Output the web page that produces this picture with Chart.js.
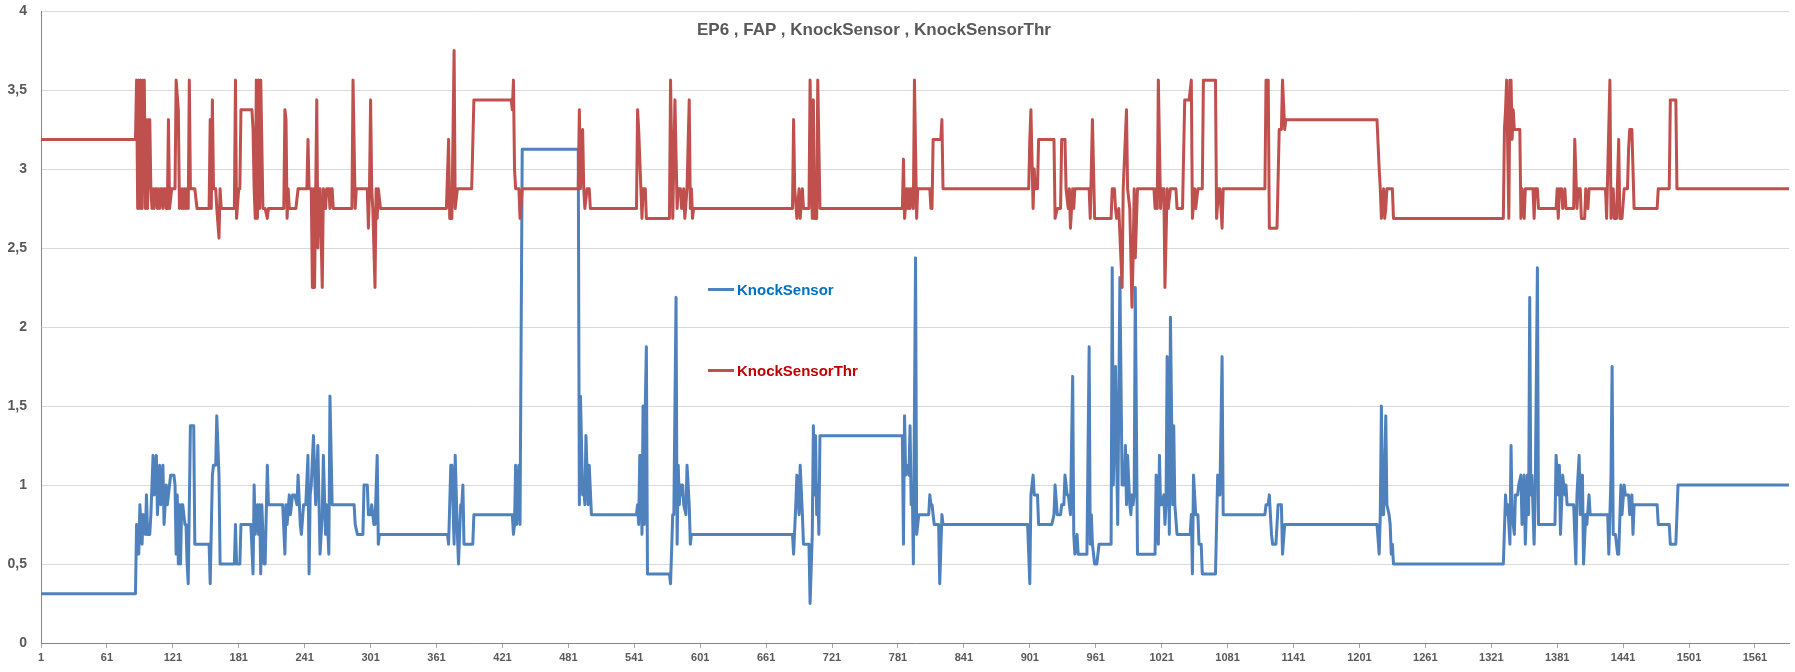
<!DOCTYPE html>
<html>
<head>
<meta charset="utf-8">
<script src="https://cdn.jsdelivr.net/npm/chart.js@4.4.0/dist/chart.umd.min.js"></script>
<style>
  body { margin: 0; background: #ffffff; }
  #wrap { position: relative; width: 1795px; height: 672px; }
  #knockChart { position: absolute; left: 0; top: 0; }
  .title {
    position: absolute; left: 697px; top: 20px;
    font: bold 17px "Liberation Sans", Arial, sans-serif;
    color: #595959; white-space: nowrap;
  }
  .legendItem {
    position: absolute; left: 708px;
    font: bold 15px "Liberation Sans", Arial, sans-serif;
    white-space: nowrap; display: flex; align-items: center;
  }
  .legendItem span.swatch { display: inline-block; width: 26px; height: 3px; margin-right: 3px; }
</style>
</head>
<body>
<div id="wrap">
  <canvas id="knockChart" width="1795" height="672"></canvas>
  <div class="title">EP6 , FAP , KnockSensor , KnockSensorThr</div>
  <div class="legendItem" style="top:281px;color:#0070C0"><span class="swatch" style="background:#4F81BD"></span>KnockSensor</div>
  <div class="legendItem" style="top:362px;color:#C00000"><span class="swatch" style="background:#C0504D"></span>KnockSensorThr</div>
</div>
<script>
// sample numbers on the x axis, only the ones Excel printed
const xTickLabels = [1, 61, 121, 181, 241, 301, 361, 421, 481, 541, 601, 661, 721, 781,
  841, 901, 961, 1021, 1081, 1141, 1201, 1261, 1321, 1381, 1441, 1501, 1561];

// KnockSensorThr : sample index where the value changes, and the value there
const thrIdx = [1, 87, 88, 89, 90, 91, 92, 93, 94, 95,
  96, 97, 98, 99, 100, 101, 102, 103, 104, 105,
  106, 107, 108, 109, 110, 111, 112, 113, 114, 115,
  116, 117, 118, 120, 123, 124, 126, 127, 128,
  129, 130, 131, 132, 133, 134, 135, 136, 137, 141,
  143, 154, 155, 156, 157, 158, 160, 161, 163, 164,
  165, 177, 178, 179, 181, 182, 183, 193, 194, 195,
  196, 197, 198, 199, 200, 201, 203, 205, 207, 208,
  222, 223, 224, 225, 226, 227, 233, 235, 243, 244,
  245, 247, 248, 249, 250, 252, 253, 254, 255, 257,
  258, 260, 261, 263, 264, 265, 266, 267, 284, 285,
  287, 288, 298, 299, 300, 301, 302, 303, 305, 306,
  307, 308, 310, 370, 372, 373, 375, 377, 378, 380,
  393, 395, 429, 430, 431, 432, 433, 436, 437, 439,
  490, 491, 492, 494, 495, 496, 498, 500, 501, 543,
  544, 545, 547, 548, 549, 551, 552, 573, 574, 576,
  578, 580, 581, 583, 584, 586, 587, 589, 591, 592,
  593, 594, 595, 685, 686, 687, 689, 691, 692, 694,
  695, 700, 701, 703, 704, 705, 707, 708, 710, 785,
  786, 787, 789, 790, 791, 792, 793, 795, 796, 798,
  799, 810, 811, 812, 813, 820, 821, 822, 900, 901,
  902, 904, 905, 906, 908, 909, 923, 924, 926, 929,
  930, 933, 934, 936, 937, 938, 940, 941, 942, 955,
  956, 958, 960, 975, 976, 978, 979, 980, 982, 985,
  986, 989, 990, 992, 994, 995, 996, 997, 999, 1014,
  1015, 1016, 1017, 1018, 1020, 1021, 1023, 1024, 1026, 1027,
  1029, 1034, 1035, 1040, 1042, 1046, 1048, 1049, 1051, 1052,
  1054, 1058, 1059, 1070, 1071, 1073, 1074, 1076, 1077, 1115,
  1116, 1118, 1119, 1126, 1128, 1130, 1131, 1133, 1134, 1217,
  1219, 1220, 1221, 1223, 1224, 1225, 1226, 1231, 1232, 1332,
  1333, 1334, 1335, 1337, 1338, 1339, 1340, 1341, 1342, 1347,
  1348, 1349, 1351, 1352, 1359, 1360, 1361, 1363, 1364, 1380,
  1381, 1382, 1383, 1385, 1386, 1388, 1389, 1396, 1397, 1399,
  1400, 1402, 1403, 1406, 1407, 1409, 1410, 1425, 1426, 1429,
  1430, 1432, 1433, 1435, 1437, 1438, 1440, 1442, 1445, 1446,
  1447, 1449, 1451, 1472, 1473, 1483, 1484, 1489, 1490, 1592];
const thrVal = [3.1875, 3.1875, 3.5625, 2.75, 3.5625, 2.75, 3.5625, 2.75, 3.5625, 3.5625,
  2.75, 3.3125, 2.75, 3.3125, 3.3125, 2.875, 2.75, 2.875, 2.75, 2.875,
  2.875, 2.75, 2.875, 2.75, 2.875, 2.875, 2.75, 2.875, 2.875, 2.75,
  2.75, 3.3125, 2.75, 2.875, 2.875, 3.5625, 3.375, 2.75, 2.875,
  2.75, 2.875, 2.75, 2.875, 2.75, 2.875, 2.75, 3.5625, 2.875, 2.875,
  2.75, 2.75, 3.3125, 2.75, 3.4375, 2.875, 2.875, 2.75, 2.5625, 2.875,
  2.75, 2.75, 3.5625, 2.6875, 2.875, 2.875, 3.375, 3.375, 3.25, 2.875,
  2.6875, 3.5625, 2.6875, 3.5625, 2.75, 3.5625, 2.75, 2.75, 2.6875, 2.75,
  2.75, 3.375, 3.3125, 2.6875, 2.875, 2.75, 2.75, 2.875, 2.875, 3.1875,
  2.875, 2.875, 2.25, 2.875, 2.25, 3.4375, 2.5, 2.875, 2.875, 2.25,
  2.875, 2.75, 2.875, 2.875, 2.75, 2.875, 2.875, 2.75, 2.75, 3.5625,
  2.75, 2.875, 2.875, 2.625, 2.875, 3.4375, 2.875, 2.75, 2.25, 2.875,
  2.6875, 2.875, 2.75, 2.75, 3.1875, 2.6875, 2.6875, 3.75, 2.75, 2.875,
  2.875, 3.4375, 3.4375, 3.375, 3.5625, 3.0, 2.875, 2.875, 2.6875, 2.875,
  2.875, 3.375, 2.875, 3.25, 2.875, 2.75, 2.875, 2.875, 2.75, 2.75,
  3.375, 3.25, 2.875, 2.6875, 2.875, 2.875, 2.6875, 2.6875, 3.5625, 2.6875,
  3.4375, 2.75, 2.875, 2.875, 2.75, 2.875, 2.6875, 2.875, 3.4375, 2.75,
  2.875, 2.6875, 2.75, 2.75, 3.3125, 2.875, 2.6875, 2.875, 2.6875, 2.875,
  2.75, 2.75, 3.5625, 2.6875, 3.4375, 2.6875, 2.6875, 3.5625, 2.75, 2.75,
  3.0625, 2.6875, 2.875, 2.75, 2.875, 2.75, 2.875, 2.75, 3.5625, 2.6875,
  2.875, 2.875, 2.75, 2.75, 3.1875, 3.1875, 3.3125, 2.875, 2.875, 3.1875,
  3.375, 2.75, 3.0, 2.875, 2.875, 3.1875, 3.1875, 2.6875, 2.75, 2.75,
  3.1875, 3.1875, 2.875, 2.75, 2.875, 2.625, 2.875, 2.75, 2.875, 2.875,
  2.6875, 3.3125, 2.6875, 2.6875, 2.875, 2.875, 2.75, 2.6875, 2.75, 2.25,
  2.875, 3.375, 2.875, 2.75, 2.125, 2.4375, 2.875, 2.4375, 2.875, 2.875,
  2.75, 2.875, 2.75, 3.5625, 2.75, 2.875, 2.875, 2.25, 2.875, 2.75,
  2.875, 2.875, 2.75, 2.75, 3.4375, 3.4375, 3.5625, 2.6875, 2.875, 2.75,
  2.875, 2.875, 3.5625, 3.5625, 2.6875, 2.875, 2.875, 2.625, 2.875, 2.875,
  3.5625, 3.5625, 2.625, 2.625, 3.25, 3.25, 3.5625, 3.25, 3.3125, 3.3125,
  3.0, 2.875, 2.6875, 2.875, 2.6875, 2.75, 2.875, 2.875, 2.6875, 2.6875,
  3.25, 3.375, 3.5625, 2.6875, 3.5625, 3.5625, 3.1875, 3.375, 3.25, 3.25,
  2.6875, 2.875, 2.6875, 2.875, 2.875, 2.6875, 2.875, 2.875, 2.75, 2.75,
  2.875, 2.6875, 2.875, 2.875, 2.75, 2.875, 2.75, 2.75, 3.1875, 2.75,
  2.875, 2.875, 2.6875, 2.6875, 2.875, 2.75, 2.875, 2.875, 2.6875, 3.5625,
  2.6875, 2.875, 2.6875, 2.6875, 3.1875, 2.6875, 2.6875, 2.875, 2.875, 3.125,
  3.25, 3.25, 2.75, 2.75, 2.875, 2.875, 3.4375, 3.4375, 2.875, 2.875];

// KnockSensor : sample index where the value changes, and the value there
const ksIdx = [1, 87, 88, 90, 91, 93, 94, 96, 97, 98,
  100, 101, 103, 104, 106, 107, 109, 110, 112, 113,
  115, 116, 118, 119, 122, 123, 124, 125, 126, 127,
  128, 129, 130, 132, 133, 134, 135, 137, 140, 141,
  154, 155, 157, 158, 160, 161, 163, 164, 165, 177,
  178, 179, 182, 183, 192, 194, 195,
  196, 198, 199, 200, 201, 202, 204, 205,
  207, 208, 221, 223, 224, 225, 227, 228, 230, 232,
  234, 235, 237, 238, 240, 242, 244, 245, 246, 247,
  249, 251, 253, 255, 257, 258, 260, 261, 263, 264,
  266, 286, 287, 289, 294, 295, 298, 299, 301, 302,
  304, 305, 307, 308, 309, 371, 372, 374, 375, 377,
  378, 380, 381, 383, 384, 385, 386, 394, 395, 430,
  431, 432, 433, 434, 436, 437, 439, 490, 491, 492,
  494, 495, 496, 497, 499, 500, 502, 543, 544, 545,
  546, 547, 548, 549, 550, 551, 552, 553, 573, 574,
  576, 577, 579, 580, 581, 582, 583, 584, 585, 586,
  588, 589, 591, 592, 593, 685, 686, 688, 689, 691,
  692, 694, 695, 700, 701, 703, 704, 705, 706, 707,
  708, 709, 710, 785, 786, 787, 788, 789, 791, 792,
  793, 794, 795, 797, 798, 800, 809, 810, 811, 812,
  814, 818, 819, 821, 822, 899, 901, 902, 904, 905,
  908, 909, 921, 923, 924, 926, 929, 930, 932, 933,
  935, 936, 938, 940, 941, 942, 944, 945, 953, 955,
  956, 957, 958, 960, 962, 964, 975, 976, 977, 979,
  980, 981, 983, 985, 987, 988, 989, 990, 992, 993,
  994, 995, 996, 997, 999, 1015, 1016, 1018, 1019, 1020,
  1021, 1023, 1024, 1025, 1026, 1028, 1029, 1031, 1032, 1033,
  1035, 1047, 1048, 1049, 1050, 1052, 1054, 1055, 1057, 1058,
  1070, 1072, 1073, 1074, 1076, 1077, 1115, 1116, 1118, 1119,
  1121, 1122, 1125, 1127, 1130, 1131, 1133, 1217, 1219, 1220,
  1221, 1222, 1223, 1225, 1226, 1228, 1229, 1230, 1231, 1232,
  1332, 1334, 1335, 1336, 1338, 1339, 1340, 1342, 1343, 1345,
  1346, 1348, 1349, 1351, 1352, 1354, 1355, 1356, 1357, 1358,
  1360, 1361, 1363, 1364, 1379, 1380, 1382, 1383, 1384, 1386,
  1388, 1389, 1390, 1396, 1398, 1399, 1401, 1402, 1404, 1405,
  1407, 1408, 1410, 1411, 1427, 1428, 1430, 1431, 1432, 1434,
  1436, 1437, 1439, 1440, 1442, 1443, 1446, 1447, 1449, 1450,
  1451, 1472, 1473, 1483, 1484, 1489, 1490, 1491, 1592];
const ksVal = [0.3125, 0.3125, 0.75, 0.5625, 0.875, 0.625, 0.8125, 0.6875, 0.9375, 0.6875,
  0.6875, 0.8125, 1.1875, 0.9375, 1.1875, 0.8125, 1.125, 0.875, 1.125, 0.75,
  1.0, 0.875, 1.0, 1.0625, 1.0625, 1.0, 0.5625, 0.9375, 0.5, 0.875,
  0.5, 0.875, 0.875, 0.75, 0.75, 0.5, 0.375, 1.375, 1.375, 0.625,
  0.625, 0.375, 1.0625, 1.125, 1.125, 1.4375, 1.0625, 0.5, 0.5, 0.5,
  0.75, 0.5, 0.5, 0.75, 0.75, 0.4375, 1.0,
  0.6875, 0.875, 0.6875, 0.875, 0.4375, 0.875, 0.5, 0.5,
  1.125, 0.875, 0.875, 0.5625, 0.875, 0.75, 0.9375, 0.8125, 0.9375, 0.9375,
  0.875, 1.0625, 0.75, 0.6875, 0.875, 0.875, 1.1875, 0.4375, 0.9375, 1.0,
  1.3125, 0.875, 1.25, 0.5625, 0.8125, 1.1875, 0.6875, 0.875, 0.5625, 1.5625,
  0.875, 0.875, 0.75, 0.6875, 0.6875, 1.0, 1.0, 0.8125, 0.8125, 0.875,
  0.75, 0.75, 1.1875, 0.625, 0.6875, 0.6875, 0.625, 1.125, 1.125, 0.625,
  1.1875, 0.6875, 0.5, 0.875, 0.875, 1.0, 0.625, 0.625, 0.8125, 0.8125,
  0.6875, 0.75, 1.125, 0.75, 1.125, 0.75, 3.125, 3.125, 0.875, 1.5625,
  0.9375, 1.0, 0.875, 1.3125, 0.875, 1.125, 0.8125, 0.8125, 0.875, 0.75,
  1.1875, 1.1875, 0.6875, 1.5, 0.75, 1.5, 1.875, 0.4375, 0.4375, 0.375,
  0.8125, 0.8125, 2.1875, 0.625, 1.125, 0.875, 1.0, 0.9375, 1.0, 0.875,
  0.8125, 1.125, 0.875, 0.625, 0.6875, 0.6875, 0.5625, 0.875, 1.0625, 0.8125,
  1.125, 0.8125, 0.625, 0.625, 0.25, 0.6875, 1.375, 0.9375, 1.3125, 0.8125,
  1.0, 0.6875, 1.3125, 1.3125, 0.625, 1.4375, 1.0625, 1.125, 1.0625, 1.375,
  0.875, 1.0, 0.5, 2.4375, 0.6875, 0.8125, 0.8125, 0.9375, 0.875, 0.875,
  0.75, 0.75, 0.375, 0.8125, 0.75, 0.75, 0.375, 0.9375, 1.0625, 0.9375,
  0.9375, 0.75, 0.75, 0.8125, 1.0, 0.8125, 0.8125, 0.875, 0.875, 1.0625,
  0.9375, 0.9375, 0.8125, 1.6875, 0.6875, 0.5625, 0.6875, 0.5625, 0.5625, 1.875,
  0.625, 0.8125, 0.625, 0.5, 0.5, 0.625, 0.625, 2.375, 1.0, 1.75,
  1.1875, 0.75, 2.3125, 1.0, 1.0, 1.25, 0.875, 1.1875, 0.875, 0.8125,
  0.9375, 0.875, 0.9375, 2.25, 0.5625, 0.5625, 1.0625, 0.625, 1.1875, 0.875,
  0.875, 0.9375, 0.75, 0.875, 1.8125, 0.6875, 2.0625, 0.875, 1.375, 0.875,
  0.6875, 0.6875, 0.8125, 0.4375, 1.0625, 0.8125, 0.8125, 0.625, 0.625, 0.4375,
  0.4375, 1.0625, 0.9375, 0.9375, 1.8125, 0.8125, 0.8125, 0.875, 0.875, 0.9375,
  0.6875, 0.625, 0.625, 0.875, 0.875, 0.5625, 0.75, 0.75, 0.5625, 0.8125,
  1.5, 0.8125, 0.8125, 1.4375, 0.875, 0.8125, 0.75, 0.5625, 0.625, 0.5,
  0.5, 0.9375, 0.8125, 0.875, 0.625, 1.25, 0.8125, 0.6875, 0.9375, 0.9375,
  1.0, 1.0625, 0.75, 1.0625, 0.625, 1.0625, 0.8125, 2.1875, 0.9375, 1.0625,
  0.625, 0.9375, 2.375, 0.75, 0.75, 1.1875, 0.9375, 1.125, 0.6875, 1.0625,
  0.9375, 1.0, 0.875, 0.875, 0.5, 0.9375, 1.1875, 0.8125, 1.0625, 0.5,
  0.8125, 0.75, 0.9375, 0.8125, 0.8125, 0.5625, 1.0625, 1.75, 0.6875, 0.6875,
  0.5625, 0.5625, 1.0, 0.8125, 1.0, 0.9375, 0.9375, 0.8125, 0.9375, 0.6875,
  0.875, 0.875, 0.75, 0.75, 0.625, 0.625, 0.8125, 1.0, 1.0];

// turn the index/value lists into points for the linear x scale
function toPoints(idx, vals)
{
    return idx.map((x, i) => ({ x: x, y: vals[i] }));
}

const labelFont = 'Liberation Sans, Arial, sans-serif';
const ctx = document.getElementById('knockChart').getContext('2d');
const knockChart = new Chart(ctx, {
    type: 'line',
    data: {
        datasets: [
            {
                label: 'KnockSensor',
                data: toPoints(ksIdx, ksVal),
                borderColor: '#4F81BD',
                borderWidth: 3,
                order: 1
            },
            {
                label: 'KnockSensorThr',
                data: toPoints(thrIdx, thrVal),
                borderColor: '#C0504D',
                borderWidth: 3,
                order: 0
            }
        ]
    },
    options: {
        responsive: false,
        animation: false,
        devicePixelRatio: 1,
        layout: { padding: { left: 0, right: 6, top: 11, bottom: 0 } },
        elements: {
            point: { radius: 0 },
            line: { tension: 0, borderJoinStyle: 'round', borderCapStyle: 'round', fill: false }
        },
        plugins: {
            legend: { display: false },
            title: { display: false },
            tooltip: { enabled: false }
        },
        scales: {
            x: {
                type: 'linear',
                min: 1,
                max: 1592,
                afterBuildTicks: function(scale) {
                    scale.ticks = xTickLabels.map(v => ({ value: v }));
                },
                afterFit: function(scale) {
                    scale.height = 29;
                    scale.paddingLeft = 0;
                    scale.paddingRight = 0;
                },
                ticks: {
                    autoSkip: false,
                    maxRotation: 0,
                    padding: 3,
                    color: '#595959',
                    font: { family: labelFont, size: 11, weight: 'bold' },
                    callback: function(value) { return String(value); }
                },
                grid: { drawOnChartArea: false, tickLength: 5, color: '#A6A6A6' },
                border: { color: '#868686', width: 1 }
            },
            y: {
                min: 0,
                max: 4,
                afterFit: function(scale) {
                    // keep the plot box where Excel had it
                    scale.width = 41;
                    scale.paddingTop = 0;
                    scale.paddingBottom = 0;
                },
                ticks: {
                    stepSize: 0.5,
                    padding: 14,
                    color: '#595959',
                    font: { family: labelFont, size: 14, weight: 'bold' },
                    // decimal comma as in the original sheet
                    callback: function(value) { return String(value).replace('.', ','); }
                },
                grid: { color: '#D9D9D9', drawTicks: false },
                border: { color: '#868686', width: 1 }
            }
        }
    }
});
</script>
</body>
</html>
